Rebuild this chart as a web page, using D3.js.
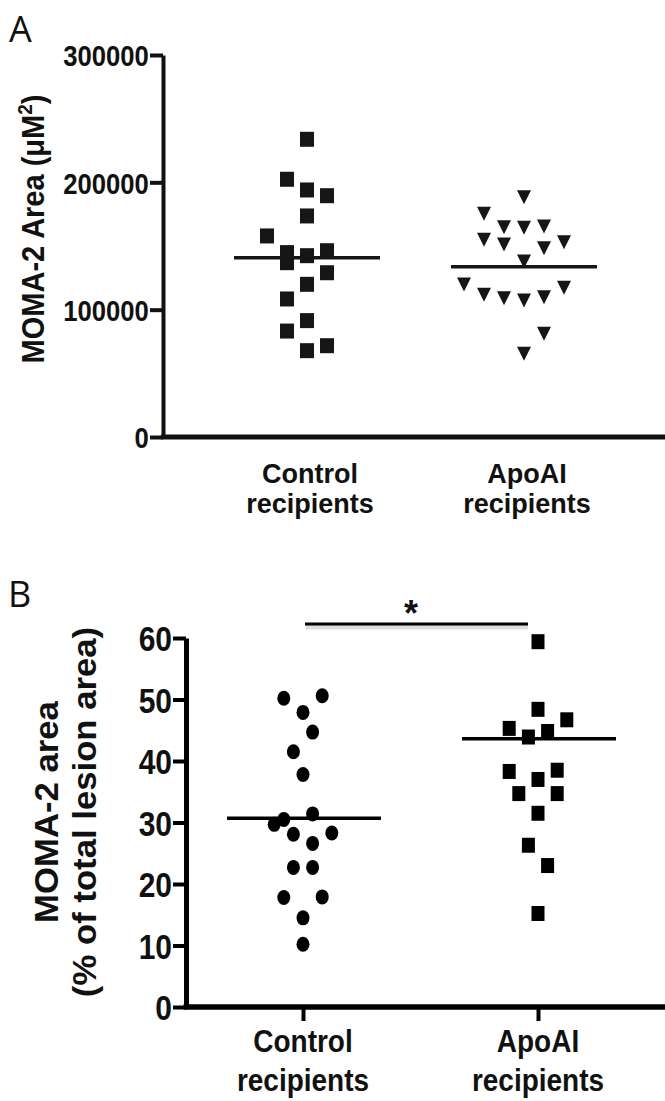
<!DOCTYPE html>
<html>
<head>
	<title>MOMA-2 area</title>
	<script src="https://cdn.jsdelivr.net/npm/d3@7"></script>
	<style type="text/css">
		body { margin: 0; background: white; }
		.chart text { font-family: 'Liberation Sans', Arial, sans-serif; font-weight: bold; fill: #111; }
		.chart .letter { font-family: 'Open Sans', sans-serif; font-weight: normal; }
	</style>
</head>
<body>

	<svg width=665 height=1101 class="chart"></svg>

	<script type="text/javascript">

		// categories
		groups = ['Control recipients', 'ApoAI recipients']

		// panel A : MOMA-2 area (uM2), jitter = column slot
		areaControl = [233800, 202400, 194000, 189500, 173600, 157900, 144800, 136900, 142400, 146300, 129000, 119900, 108400, 91400, 83200, 67800, 71700]
		areaControlJitter = [0, -1, 0, 1, 0, -2, -1, -1, 0, 1, 1, 0, -1, 0, -1, 0, 1]
		areaApoAI = [188700, 175700, 165200, 164700, 165700, 155300, 151600, 148700, 153400, 138200, 120200, 112100, 109400, 107600, 110200, 117600, 81400, 65700]
		areaApoAIJitter = [0, -2, -1, 0, 1, -2, -1, 1, 2, 0, -3, -2, -1, 0, 1, 2, 1, 0]
		areaLines = [140800, 133700]
		areaTicks = [0, 100000, 200000, 300000]

		// panel B : MOMA-2 area (% of total lesion area)
		pctControl = [50.2, 50.6, 47.9, 44.7, 41.5, 37.8, 31.4, 30.5, 29.7, 28.1, 28.3, 26.6, 22.7, 22.7, 17.8, 17.9, 14.5, 10.2]
		pctControlJitter = [-2, 2, 0, 1, -1, 0, 1, -2, -3, -1, 3, 1, -1, 1, -2, 2, 0, 0]
		pctApoAI = [59.4, 48.4, 46.7, 45.3, 44.8, 43.9, 38.3, 38.5, 37.0, 34.7, 34.7, 31.5, 26.3, 23.0, 15.2]
		pctApoAIJitter = [0, 0, 3, -3, 1, -1, -3, 2, 0, -2, 2, 0, -1, 1, 0]
		pctLines = [30.7, 43.6]
		pctTicks = [0, 10, 20, 30, 40, 50, 60]

		svg = d3.select('.chart')
		W = 665

		function pack(vals, jit, g) {
			return vals.map(function(v, i) { return {value: v, slot: jit[i], group: g} })
		}

		function square(w, h) {
			return 'M' + (-w/2) + ',' + (-h/2) + 'h' + w + 'v' + h + 'h' + (-w) + 'Z'
		}

		/* ---------------- panel A ---------------- */
		var gA = svg.append('g')
		yA = d3.scaleLinear().domain([0, 300000]).range([437, 55])
		xA = d3.scalePoint().domain(groups).range([307, 524])
		slotA = d3.scaleLinear().domain([0, 1]).range([0, 20])
		axA = 163

		gA.append('text').attr('class', 'letter').attr('x', 9).attr('y', 42)
			.style('font-size', '36px').text('A')

		var yAxisA = d3.axisLeft(yA).tickValues(areaTicks).tickFormat(d3.format('d'))
			.tickSize(13).tickSizeOuter(0).tickPadding(2)
		gA.append('g').attr('transform', 'translate(' + axA + ',0)').call(yAxisA)
			.call(function(g) {
				g.select('.domain').attr('stroke-width', 4).attr('stroke', '#111')
				g.selectAll('.tick line').attr('stroke-width', 4).attr('stroke', '#111')
				g.selectAll('.tick text').style('font-size', '27px').attr('dy', '0.36em').attr('fill', '#111')
					.attr('transform', 'scale(0.95,1.12)')
			})
		gA.selectAll('.tick text').attr('y', 0)

		gA.append('line').attr('x1', axA - 2).attr('x2', W).attr('y1', yA(0)).attr('y2', yA(0))
			.attr('stroke', '#111').attr('stroke-width', 5)

		gA.append('text').attr('transform', 'translate(44,' + 229 + ') rotate(-90) scale(1,1.1)')
			.attr('text-anchor', 'middle').style('font-size', '29px')
			.call(function(t) {
				t.append('tspan').text('MOMA-2 Area (\u03BCM')
				t.append('tspan').attr('dy', -11).style('font-size', '19px').text('2')
				t.append('tspan').attr('dy', 11).text(')')
			})

		groups.forEach(function(g) {
			var words = g.split(' ')
			gA.append('text').attr('text-anchor', 'middle').style('font-size', '27px')
				.attr('x', xA(g) + 3).attr('y', 483).text(words[0])
			gA.append('text').attr('text-anchor', 'middle').style('font-size', '27px')
				.attr('x', xA(g) + 3).attr('y', 513).text(words[1])
		})

		var ptsA1 = pack(areaControl, areaControlJitter, groups[0])
		gA.selectAll('.sqA').data(ptsA1).enter().append('path')
			.attr('d', square(14, 15))
			.attr('transform', function(d) { return 'translate(' + (xA(d.group) + slotA(d.slot)) + ',' + yA(d.value) + ')' })
			.attr('fill', '#161616')

		var ptsA2 = pack(areaApoAI, areaApoAIJitter, groups[1])
		gA.selectAll('.triA').data(ptsA2).enter().append('path')
			.attr('d', 'M-7,-6.5L7,-6.5L0,7.5Z')
			.attr('transform', function(d) { return 'translate(' + (xA(d.group) + slotA(d.slot)) + ',' + yA(d.value) + ')' })
			.attr('fill', '#161616')

		gA.selectAll('.meanA').data(areaLines).enter().append('line')
			.attr('x1', function(d, i) { return xA(groups[i]) - 73 })
			.attr('x2', function(d, i) { return xA(groups[i]) + 73 })
			.attr('y1', function(d) { return yA(d) }).attr('y2', function(d) { return yA(d) })
			.attr('stroke', '#161616').attr('stroke-width', 3.5)

		/* ---------------- panel B ---------------- */
		var gB = svg.append('g')
		yB = d3.scaleLinear().domain([0, 60]).range([1007, 638])
		xB = d3.scalePoint().domain(groups).range([303, 538])
		slotB = d3.scaleLinear().domain([0, 1]).range([0, 9.6])
		axB = 186

		gB.append('text').attr('class', 'letter').attr('x', 8).attr('y', 607)
			.style('font-size', '36px').text('B')

		var yAxisB = d3.axisLeft(yB).tickValues(pctTicks)
			.tickSize(13).tickSizeOuter(0).tickPadding(1)
		gB.append('g').attr('transform', 'translate(' + axB + ',0)').call(yAxisB)
			.call(function(g) {
				g.select('.domain').attr('stroke-width', 5).attr('stroke', '#000')
				g.selectAll('.tick line').attr('stroke-width', 4).attr('stroke', '#000')
				g.selectAll('.tick text').style('font-size', '30px').attr('dy', '0.36em').attr('fill', '#000')
					.attr('transform', 'scale(1,1.18)')
			})

		var xAxisB = d3.axisBottom(xB).tickSize(14).tickSizeOuter(0).tickFormat('')
		gB.append('g').attr('transform', 'translate(0,' + yB(0) + ')').call(xAxisB)
			.call(function(g) {
				g.select('.domain').remove()
				g.selectAll('.tick line').attr('stroke-width', 4).attr('stroke', '#000')
			})
		gB.append('line').attr('x1', axB - 2.5).attr('x2', W).attr('y1', yB(0)).attr('y2', yB(0))
			.attr('stroke', '#000').attr('stroke-width', 5.5)

		var yl = gB.append('text').attr('transform', 'translate(58,812) rotate(-90) scale(1.12,1.08)')
			.attr('text-anchor', 'middle').style('font-size', '31px')
		yl.append('tspan').attr('x', 0).attr('y', 0).text('MOMA-2 area')
		yl.append('tspan').attr('x', 0).attr('y', 35).text('(% of total lesion area)')

		groups.forEach(function(g) {
			var words = g.split(' ')
			var t = gB.append('text').attr('text-anchor', 'middle')
				.attr('transform', 'translate(' + xB(g) + ',0) scale(1,1.15)')
				.style('font-size', '28px')
			t.append('tspan').attr('x', 0).attr('y', 1052 / 1.15).text(words[0])
			t.append('tspan').attr('x', 0).attr('y', 1091 / 1.15).text(words[1])
		})

		var ptsB1 = pack(pctControl, pctControlJitter, groups[0])
		gB.selectAll('.dotB').data(ptsB1).enter().append('ellipse')
			.attr('cx', function(d) { return xB(d.group) + slotB(d.slot) })
			.attr('cy', function(d) { return yB(d.value) })
			.attr('rx', 6.5).attr('ry', 7.5)
			.attr('fill', '#000')

		var ptsB2 = pack(pctApoAI, pctApoAIJitter, groups[1])
		gB.selectAll('.sqB').data(ptsB2).enter().append('path')
			.attr('d', square(13, 15))
			.attr('transform', function(d) { return 'translate(' + (xB(d.group) + slotB(d.slot)) + ',' + yB(d.value) + ')' })
			.attr('fill', '#000')

		gB.selectAll('.meanB').data(pctLines).enter().append('line')
			.attr('x1', function(d, i) { return xB(groups[i]) - 76 })
			.attr('x2', function(d, i) { return xB(groups[i]) + 78 })
			.attr('y1', function(d) { return yB(d) }).attr('y2', function(d) { return yB(d) })
			.attr('stroke', '#000').attr('stroke-width', 3.5)

		// significance bar
		gB.append('line').attr('x1', xB(groups[0]) + 3).attr('x2', xB(groups[1]) - 10)
			.attr('y1', 627).attr('y2', 627).attr('stroke', '#ddd').attr('stroke-width', 5)
		gB.append('line').attr('x1', xB(groups[0]) + 2).attr('x2', xB(groups[1]) - 10)
			.attr('y1', 624).attr('y2', 624).attr('stroke', '#000').attr('stroke-width', 3)
		gB.append('text').attr('x', 411).attr('y', 626).attr('text-anchor', 'middle')
			.style('font-size', '36px').text('*')

	</script>

</body>
</html>
